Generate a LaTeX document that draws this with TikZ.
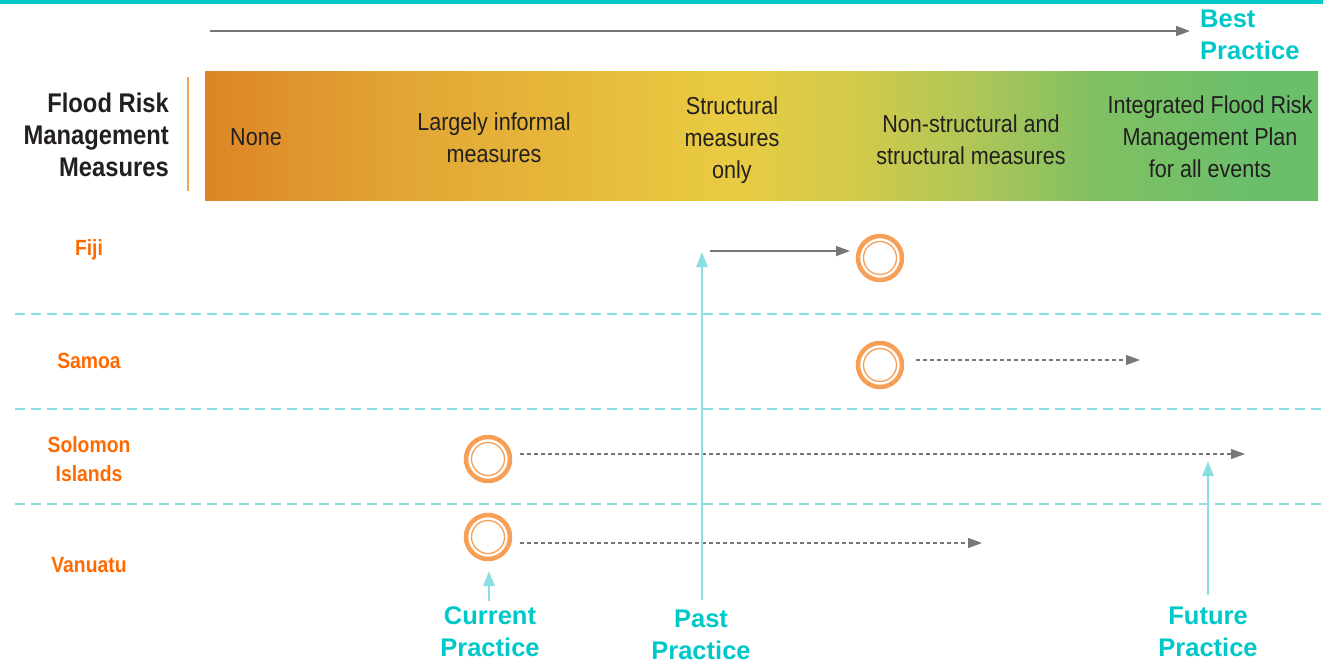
\documentclass[tikz,border=0pt]{standalone}
\usepackage{fontspec}
\setmainfont{Liberation Sans}
\newfontfamily\cond{Liberation Sans}[FakeStretch=0.88]
\usetikzlibrary{arrows.meta}
\definecolor{tealT}{HTML}{00C8C8}
\definecolor{tealL}{HTML}{8ADFE0}
\definecolor{orangeT}{HTML}{FF6A00}
\definecolor{ringC}{HTML}{F7A055}
\definecolor{grayA}{HTML}{777777}
\definecolor{txt}{HTML}{231F20}
\definecolor{sepC}{HTML}{F5A55A}
\definecolor{c0}{HTML}{DD8526}
\definecolor{c1}{HTML}{E2A634}
\definecolor{c2}{HTML}{E9CB42}
\definecolor{c3}{HTML}{D3CA4A}
\definecolor{c4}{HTML}{B0C657}
\definecolor{c5}{HTML}{80C062}
\definecolor{c6}{HTML}{6BBF6A}
\pgfdeclarehorizontalshading{barshade}{100bp}{color(0bp)=(c0); color(25bp)=(c0); color(34bp)=(c1); color(48.6bp)=(c2); color(54bp)=(c3); color(59.4bp)=(c4); color(65bp)=(c5); color(72bp)=(c6); color(100bp)=(c6)}
\begin{document}
\begin{tikzpicture}[x=1pt,y=-1pt,
  bartext/.style={font=\cond\fontsize{24.5}{32}\selectfont, align=center, text=txt, inner sep=0pt},
  headtext/.style={font=\cond\bfseries\fontsize{27}{32}\selectfont, align=right, text=txt, inner sep=0pt, anchor=east},
  country/.style={font=\cond\bfseries\fontsize{22}{29}\selectfont, align=center, text=orangeT, inner sep=0pt},
  practice/.style={font=\bfseries\fontsize{25.5}{32}\selectfont, align=center, text=tealT, inner sep=0pt},
  ring/.style={circle, draw=ringC, line width=4.5pt, minimum size=44pt, inner sep=0pt},
  innerring/.style={draw=ringC, line width=1.3pt},
  solidarr/.style={draw=grayA, line width=1.5pt, -{Triangle[length=14pt,width=10pt]}},
  dasharr/.style={draw=grayA, line width=1.2pt, dash pattern=on 4pt off 3pt, -{Triangle[length=14pt,width=10pt]}},
  tealarr/.style={draw=tealL, line width=2.8pt, -{Triangle[length=15pt,width=11pt]}},
  sepline/.style={draw=tealL, line width=2.8pt, dash pattern=on 10pt off 6pt}
]
\useasboundingbox (0,0) rectangle (1323,664);
% top line
\coordinate (tl0) at (0,2);
\coordinate (tl1) at (1323,2);
\draw[tealT, line width=4pt] (tl0) -- (tl1);
% top arrow
\coordinate (ta0) at (210,31);
\coordinate (ta1) at (1190,31);
\draw[solidarr] (ta0) -- (ta1);
\node[practice, align=left, anchor=west] (best) at (1200,35) {Best\\Practice};
% gradient bar
\shade[shading=barshade] (205,71) rectangle (1318,200);
\coordinate (s0) at (188,77);
\coordinate (s1) at (188,191);
\draw[sepC, line width=2pt] (s0) -- (s1);
\node[headtext] (head) at (169,135) {Flood Risk\\Management\\Measures};
\node[bartext] (none) at (256,137) {None};
\node[bartext] (informal) at (494,138) {Largely informal\\measures};
\node[bartext] (structural) at (732,140) {Structural\\measures\\only};
\node[bartext] (nonstruct) at (971,140) {Non-structural and\\structural measures};
\node[bartext] (integrated) at (1210,137) {Integrated Flood Risk\\Management Plan\\for all events};
% separators
\foreach \yy/\nm in {314/a,409/b,504/c}{
  \coordinate (sep\nm0) at (15,\yy);
  \coordinate (sep\nm1) at (1323,\yy);
  \draw[sepline] (sep\nm0) -- (sep\nm1);
}
% countries
\node[country] (fijiL) at (89,250) {Fiji};
\node[country] (samoaL) at (89,361) {Samoa};
\node[country] (solomonL) at (89,459) {Solomon\\Islands};
\node[country] (vanuatuL) at (89,565) {Vanuatu};
% rings
\node[ring] (fiji) at (880,258) {};
\node[ring] (samoa) at (880,365) {};
\node[ring] (solomon) at (488,459) {};
\node[ring] (vanuatu) at (488,537) {};
\foreach \r in {fiji,samoa,solomon,vanuatu}{
  \draw[innerring] (\r.center) circle[radius=16.5pt];
}
% progress arrows
\coordinate (f0) at (710,251);
\coordinate (f1) at (850,251);
\draw[solidarr] (f0) -- (f1);
\coordinate (sa0) at (916,360);
\coordinate (sa1) at (1140,360);
\draw[dasharr] (sa0) -- (sa1);
\coordinate (so0) at (520,454);
\coordinate (so1) at (1245,454);
\draw[dasharr] (so0) -- (so1);
\coordinate (va0) at (520,543);
\coordinate (va1) at (982,543);
\draw[dasharr] (va0) -- (va1);
% practice labels
\node[practice] (current) at (490,632) {Current\\Practice};
\node[practice] (past) at (701,635) {Past\\Practice};
\node[practice] (future) at (1208,632) {Future\\Practice};
\coordinate (pastTop) at (702,252);
\coordinate (futTop) at (1208,461);
\coordinate (curTop) at (489,571);
\draw[tealarr] (past.north -| pastTop) ++(0,-10) -- (pastTop);
\draw[tealarr] (future.north -| futTop) ++(0,-12) -- (futTop);
\draw[tealarr] (current.north -| curTop) ++(0,-6) -- (curTop);
\end{tikzpicture}
\end{document}
